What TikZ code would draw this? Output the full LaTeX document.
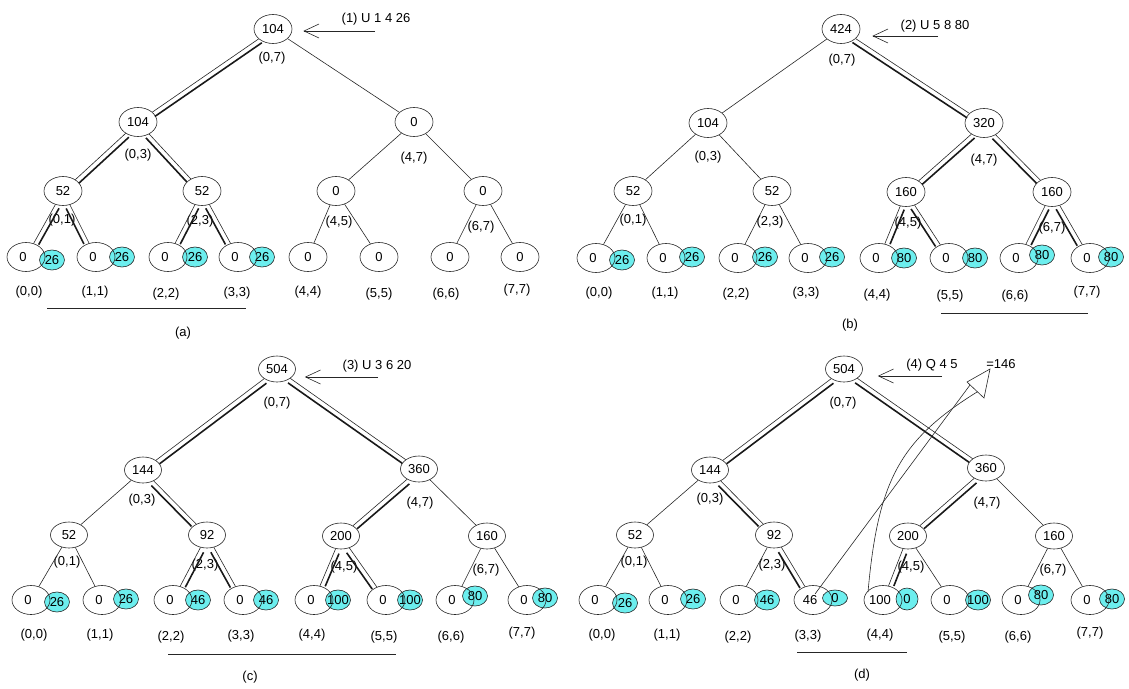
\documentclass[tikz,border=0pt]{standalone}
\usepackage{fontspec}
\setmainfont{Liberation Sans}
\usetikzlibrary{shapes.geometric,arrows.meta,calc}
\definecolor{cyanf}{RGB}{108,238,238}
\newcommand\fs{\fontsize{13}{15}\selectfont}
\newcommand\z[1]{\makebox[0pt]{#1}}
\tikzset{
 base/.style={ellipse, draw=black!85, line width=0.6pt, inner sep=0pt, font=\fs},
 val/.style={base, fill=white, minimum width=38pt, minimum height=29pt},
 valb/.style={base, fill=white, minimum width=37pt, minimum height=26pt},
 leaf/.style={base, minimum width=38pt, minimum height=29pt},
 cy/.style={base, fill=cyanf, minimum width=25pt, minimum height=20pt},
 lab/.style={inner sep=0pt, font=\fs},
 edge/.style={draw=black!85, line width=0.6pt},
 thk/.style={draw=black!90, line width=1.6pt, shorten <=17pt, shorten >=17pt},
 cmd/.style={draw=black!85, line width=0.6pt, -{Straight Barb[length=15pt,width=14pt]}},
 rng/.style={draw=black!85, line width=0.6pt},
}
\newcommand\updL[2]{\draw[edge] (#1) -- (#2);
  \draw[thk] ($(#1)!5pt!90:(#2)$) -- ($(#2)!5pt!-90:(#1)$);}
\newcommand\updR[2]{\draw[edge] (#1) -- (#2);
  \draw[thk] ($(#1)!5pt!-90:(#2)$) -- ($(#2)!5pt!90:(#1)$);}
\newcommand\sgl[2]{\draw[edge] (#1) -- (#2);}
\begin{document}
\begin{tikzpicture}[x=1pt,y=-1pt]
\useasboundingbox (0,0) rectangle (1129,688);
% ================= (a) =================
\node[val] (a-r) at (273,29) {104};
\node[val] (a-a) at (138,122) {104};
\node[val] (a-b) at (414,122) {0};
\node[val] (a-aa) at (63,191) {52};
\node[val] (a-ab) at (202,191) {52};
\node[val] (a-ba) at (336,191) {0};
\node[val] (a-bb) at (483,191) {0};
\node[cy] (a-c1) at (52,260) {\z{26}};
\node[cy] (a-c2) at (122,257) {\z{26}};
\node[cy] (a-c3) at (195,257) {\z{26}};
\node[cy] (a-c4) at (262,257) {\z{26}};
\foreach \x [count=\i] in {26,96,168,238,308,379,450,520}
  \node[leaf] (a-\i) at (\x,257) {\ifnum\i<5 \hspace{-6pt}\fi 0};
\node[lab] (a-lr) at (272,58) {(0,7)};
\node[lab] (a-la) at (138,155) {(0,3)};
\node[lab] (a-lb) at (414,158) {(4,7)};
\node[lab] (a-laa) at (62,220) {(0,1)};
\node[lab] (a-lab) at (200,221) {(2,3)};
\node[lab] (a-lba) at (339,222) {(4,5)};
\node[lab] (a-lbb) at (481,227) {(6,7)};
\foreach \x/\y [count=\i from 0] in {29/292,95/292,166/294,237/293,308/292,379/294,446/294,517/290}
  \node[lab] (a-l\i) at (\x,\y) {(\i,\i)};
\updL{a-r}{a-a} \sgl{a-r}{a-b}
\updL{a-a}{a-aa} \updR{a-a}{a-ab}
\updL{a-aa}{a-1} \updR{a-aa}{a-2} \updL{a-ab}{a-3} \updR{a-ab}{a-4}
\sgl{a-b}{a-ba} \sgl{a-b}{a-bb}
\sgl{a-ba}{a-5} \sgl{a-ba}{a-6} \sgl{a-bb}{a-7} \sgl{a-bb}{a-8}
\node[lab] (a-cmd) at (376,19) {(1) U 1 4 26};
\coordinate (a-cs) at (375,31);
\draw[cmd, shorten >=11pt] (a-cs) -- (a-cs -| a-r.east);
\draw[rng] (47,308) -- (246,308);
\node[lab] (a-cap) at (183,333) {(a)};
% ================= (b) =================
\node[val] (b-r) at (841,29) {424};
\node[val] (b-a) at (708,123) {104};
\node[val] (b-b) at (984,123) {320};
\node[val] (b-aa) at (633,191) {52};
\node[val] (b-ab) at (772,191) {52};
\node[val] (b-ba) at (906,192) {160};
\node[val] (b-bb) at (1052,192) {160};
\node[cy] (b-c1) at (622,260) {\z{26}};
\node[cy] (b-c2) at (692,257) {\z{26}};
\node[cy] (b-c3) at (765,257) {\z{26}};
\node[cy] (b-c4) at (832,257) {\z{26}};
\node[cy] (b-c5) at (904,258) {\z{80}};
\node[cy] (b-c6) at (975,258) {\z{80}};
\node[cy] (b-c7) at (1042,255) {\z{80}};
\node[cy] (b-c8) at (1111,257) {\z{80}};
\foreach \x [count=\i] in {596,666,738,808,879,949,1019,1090}
  \node[leaf] (b-\i) at (\x,258) {\hspace{-6pt}0};
\node[lab] (b-lr) at (842,60) {(0,7)};
\node[lab] (b-la) at (708,157) {(0,3)};
\node[lab] (b-lb) at (984,160) {(4,7)};
\node[lab] (b-laa) at (633,220) {(0,1)};
\node[lab] (b-lab) at (770,222) {(2,3)};
\node[lab] (b-lba) at (908,223) {(4,5)};
\node[lab] (b-lbb) at (1052,228) {(6,7)};
\foreach \x/\y [count=\i from 0] in {599/293,665/293,736/294,806/293,877/295,950/296,1015/296,1087/292}
  \node[lab] (b-l\i) at (\x,\y) {(\i,\i)};
\sgl{b-r}{b-a} \updR{b-r}{b-b}
\sgl{b-a}{b-aa} \sgl{b-a}{b-ab}
\sgl{b-aa}{b-1} \sgl{b-aa}{b-2} \sgl{b-ab}{b-3} \sgl{b-ab}{b-4}
\updL{b-b}{b-ba} \updR{b-b}{b-bb}
\updL{b-ba}{b-5} \updR{b-ba}{b-6} \updL{b-bb}{b-7} \updR{b-bb}{b-8}
\node[lab] (b-cmd) at (935,26) {(2) U 5 8 80};
\coordinate (b-cs) at (938,36);
\draw[cmd, shorten >=12pt] (b-cs) -- (b-cs -| b-r.east);
\draw[rng] (941,313) -- (1088,313);
\node[lab] (b-cap) at (850,325) {(b)};
% ================= (c) =================
\node[valb] (c-r) at (277,369) {504};
\node[valb] (c-a) at (143,470) {144};
\node[valb] (c-b) at (419,469) {360};
\node[valb] (c-aa) at (69,535) {52};
\node[valb] (c-ab) at (207,535) {92};
\node[valb] (c-ba) at (341,536) {200};
\node[valb] (c-bb) at (487,536) {160};
\node[cy] (c-c1) at (57,602) {\z{26}};
\node[cy] (c-c2) at (126,599) {\z{26}};
\node[cy] (c-c3) at (198,600) {\z{46}};
\node[cy] (c-c4) at (266,600) {\z{46}};
\node[cy] (c-c5) at (338,600) {\z{100}};
\node[cy] (c-c6) at (410,600) {\z{100}};
\node[cy] (c-c7) at (475,596) {\z{80}};
\node[cy] (c-c8) at (545,598) {\z{80}};
\foreach \x [count=\i] in {31,102,173,243,314,386,455,527}
  \node[leaf] (c-\i) at (\x,600) {\hspace{-6pt}0};
\node[lab] (c-lr) at (277,403) {(0,7)};
\node[lab] (c-la) at (142,500) {(0,3)};
\node[lab] (c-lb) at (420,503) {(4,7)};
\node[lab] (c-laa) at (67,562) {(0,1)};
\node[lab] (c-lab) at (205,565) {(2,3)};
\node[lab] (c-lba) at (344,567) {(4,5)};
\node[lab] (c-lbb) at (486,570) {(6,7)};
\foreach \x/\y [count=\i from 0] in {34/635,100/635,171/637,241/636,312/635,384/637,451/637,522/633}
  \node[lab] (c-l\i) at (\x,\y) {(\i,\i)};
\updL{c-r}{c-a} \updR{c-r}{c-b}
\sgl{c-a}{c-aa} \updR{c-a}{c-ab}
\sgl{c-aa}{c-1} \sgl{c-aa}{c-2} \updL{c-ab}{c-3} \updR{c-ab}{c-4}
\updL{c-b}{c-ba} \sgl{c-b}{c-bb}
\updL{c-ba}{c-5} \updR{c-ba}{c-6} \sgl{c-bb}{c-7} \sgl{c-bb}{c-8}
\node[lab] (c-cmd) at (377,366) {(3) U 3 6 20};
\coordinate (c-cs) at (378,377);
\draw[cmd, shorten >=9pt] (c-cs) -- (c-cs -| c-r.east);
\draw[rng] (168,654) -- (396,654);
\node[lab] (c-cap) at (250,677) {(c)};
% ================= (d) =================
\node[valb] (d-r) at (844,369) {504};
\node[valb] (d-a) at (710,470) {144};
\node[valb] (d-b) at (986,468) {360};
\node[valb] (d-aa) at (635,535) {52};
\node[valb] (d-ab) at (774,535) {92};
\node[valb] (d-ba) at (908,536) {200};
\node[valb] (d-bb) at (1054,536) {160};
\node[cy] (d-c1) at (625,603) {\z{26}};
\node[cy] (d-c2) at (693,599) {\z{26}};
\node[cy] (d-c3) at (767,600) {\z{46}};
\node[cy, minimum height=16pt] (d-c4) at (835,598) {\z{0}};
\node[cy, minimum width=22pt, minimum height=22pt] (d-c5) at (907,599) {\z{0}};
\node[cy] (d-c6) at (978,600) {\z{100}};
\node[cy] (d-c7) at (1041,595) {\z{80}};
\node[cy] (d-c8) at (1112,599) {\z{80}};
\foreach \x/\t [count=\i] in {598/0,668/0,739/0,813/46,883/100,950/0,1021/0,1090/0}
  \node[leaf] (d-\i) at (\x,600) {\hspace{-6pt}\t};
\node[lab] (d-lr) at (843,403) {(0,7)};
\node[lab] (d-la) at (710,499) {(0,3)};
\node[lab] (d-lb) at (987,503) {(4,7)};
\node[lab] (d-laa) at (634,562) {(0,1)};
\node[lab] (d-lab) at (772,565) {(2,3)};
\node[lab] (d-lba) at (911,567) {(4,5)};
\node[lab] (d-lbb) at (1053,570) {(6,7)};
\foreach \x/\y [count=\i from 0] in {602/635,667/635,738/637,808/636,880/635,952/637,1018/637,1090/633}
  \node[lab] (d-l\i) at (\x,\y) {(\i,\i)};
\updL{d-r}{d-a} \updR{d-r}{d-b}
\sgl{d-a}{d-aa} \updR{d-a}{d-ab}
\sgl{d-aa}{d-1} \sgl{d-aa}{d-2} \sgl{d-ab}{d-3} \updR{d-ab}{d-4}
\updL{d-b}{d-ba} \sgl{d-b}{d-bb}
\updL{d-ba}{d-5} \sgl{d-ba}{d-6} \sgl{d-bb}{d-7} \sgl{d-bb}{d-8}
\node[lab] (d-cmd) at (932,365) {(4) Q 4 5};
\coordinate (d-cs) at (942,376);
\draw[cmd, shorten >=15pt] (d-cs) -- (d-cs -| d-r.east);
% query result arrow
\coordinate (d-tip) at (990,369);
\coordinate (d-b1) at (967,382);
\coordinate (d-b2) at (984,398);
\coordinate (d-s1) at (970,385);
\coordinate (d-s2) at (977,392);
\draw[edge] ([shift={(2,-6)}]d-4.center) -- (d-s1);
\draw[edge] ([shift={(-15,-8)}]d-5.center) .. controls (878,480) and (900,440) .. (d-s2);
\draw[edge, fill=white] (d-tip) -- (d-b1) -- (d-b2) -- cycle;
\node[lab] (d-res) at (1001,364) {=146};
\draw[rng] (797,652) -- (907,652);
\node[lab] (d-cap) at (862,675) {(d)};
\end{tikzpicture}
\end{document}
